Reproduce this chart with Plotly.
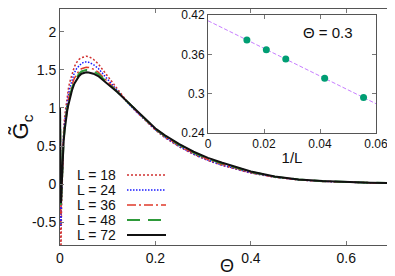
import numpy as np
import plotly.graph_objects as go

# ---------------- data ----------------
theta = [0, 0.001, 0.002, 0.003, 0.005, 0.0075, 0.01, 0.0125, 0.015, 0.0175,
         0.02, 0.025, 0.03, 0.035, 0.04, 0.045, 0.05, 0.055, 0.06, 0.065,
         0.07, 0.08, 0.09, 0.1, 0.12, 0.14, 0.16, 0.18, 0.2, 0.22,
         0.25, 0.28, 0.31, 0.34, 0.37, 0.4, 0.45, 0.5, 0.55, 0.6, 0.65, 0.7]

g_L18 = [1.0, -0.8, -0.9, -0.4, 0.35, 0.7, 0.9, 1.04, 1.15, 1.25,
         1.33, 1.45, 1.54, 1.60, 1.64, 1.66, 1.675, 1.68, 1.675, 1.66,
         1.64, 1.58, 1.50, 1.42, 1.25, 1.09, 0.95, 0.83, 0.71, 0.61,
         0.49, 0.39, 0.31, 0.245, 0.19, 0.145, 0.09, 0.055, 0.035, 0.024, 0.016, 0.011]

g_L24 = [1.0, -0.3, -0.55, -0.2, 0.33, 0.64, 0.83, 0.97, 1.08, 1.17,
         1.25, 1.37, 1.46, 1.52, 1.56, 1.585, 1.60, 1.605, 1.60, 1.59,
         1.57, 1.52, 1.45, 1.38, 1.23, 1.08, 0.95, 0.835, 0.715, 0.615,
         0.495, 0.395, 0.315, 0.25, 0.195, 0.148, 0.092, 0.056, 0.036, 0.024, 0.016, 0.011]

g_L36 = [1.0, -0.1, -0.4, -0.15, 0.32, 0.6, 0.78, 0.92, 1.02, 1.11,
         1.18, 1.30, 1.39, 1.45, 1.49, 1.515, 1.53, 1.535, 1.533, 1.525,
         1.51, 1.47, 1.41, 1.35, 1.22, 1.085, 0.96, 0.845, 0.72, 0.625,
         0.505, 0.405, 0.325, 0.26, 0.203, 0.155, 0.095, 0.058, 0.037, 0.025, 0.017, 0.0115]

g_L48 = [1.0, 0.0, -0.3, -0.12, 0.31, 0.57, 0.75, 0.89, 0.99, 1.075,
         1.14, 1.26, 1.35, 1.41, 1.45, 1.48, 1.493, 1.50, 1.498, 1.49,
         1.48, 1.445, 1.39, 1.335, 1.215, 1.088, 0.965, 0.852, 0.725, 0.632,
         0.515, 0.415, 0.335, 0.27, 0.21, 0.16, 0.098, 0.059, 0.038, 0.026, 0.0175, 0.012]

g_L72 = [1.0, 0.2, -0.25, -0.1, 0.3, 0.55, 0.72, 0.86, 0.96, 1.04,
         1.11, 1.23, 1.32, 1.38, 1.42, 1.45, 1.462, 1.468, 1.467, 1.46,
         1.45, 1.42, 1.37, 1.32, 1.21, 1.09, 0.97, 0.86, 0.73, 0.64,
         0.525, 0.425, 0.345, 0.28, 0.22, 0.165, 0.10, 0.06, 0.04, 0.027, 0.018, 0.012]

series_names = ["L = 18", "L = 24", "L = 36", "L = 48", "L = 72"]
series_values = [g_L18, g_L24, g_L36, g_L48, g_L72]

# inset: Theta = 0.3
inset_L = [72, 48, 36, 24, 18]
inset_G = [0.382, 0.367, 0.353, 0.3234, 0.294]

main_xticks = [0, 0.2, 0.4, 0.6]
main_yticks = [-0.5, 0, 0.5, 1, 1.5, 2]
inset_xticks = [0, 0.02, 0.04, 0.06]
inset_yticks = [0.24, 0.3, 0.36, 0.42]

# ---------------- styles ----------------
styles = [
    dict(color="#d03030", dash="2px,2px", width=1.5),
    dict(color="#1a1aff", dash="1.5px,1.5px", width=1.5),
    dict(color="#e03a2a", dash="9px,3px,2px,3px", width=1.5),
    dict(color="#2e9a3a", dash="13px,8px", width=2),
    dict(color="#111111", dash="solid", width=2),
]

FONT = "Liberation Sans, Arial, sans-serif"
# the page body has an 8px default margin; size the figure so the plot
# area lands at page pixels x 60..394, y 9..245
OFF = 8
W, H = 395 - OFF, 276 - OFF
ml, mr, mt, mb = 60 - OFF, 1, 9 - OFF, 31
pw, ph = W - ml - mr, H - mt - mb
X0, YB = 60, 245  # plot-area left / bottom in page pixels

def px_x(p):
    return (p - X0) / pw

def px_y(p):
    return (YB - p) / ph

fig = go.Figure()

for name, vals, st in zip(series_names, series_values, styles):
    fig.add_trace(go.Scatter(x=theta, y=vals, mode="lines", name=name,
                             line=dict(color=st["color"], dash=st["dash"], width=st["width"]),
                             showlegend=False, xaxis="x", yaxis="y"))

# inset data and fit line
inv_L = [1.0 / l for l in inset_L]
coef = np.polyfit(inv_L, inset_G, 1)
fit_x = np.array([0.0, 0.06])
fit_y = np.polyval(coef, fit_x)
fig.add_trace(go.Scatter(x=fit_x, y=fit_y, mode="lines",
                         line=dict(color="#c77dff", dash="4px,2px", width=1),
                         showlegend=False, xaxis="x2", yaxis="y2"))
fig.add_trace(go.Scatter(x=inv_L, y=inset_G, mode="markers",
                         marker=dict(color="#009e73", size=7),
                         showlegend=False, xaxis="x2", yaxis="y2"))

axis_common = dict(showgrid=False, zeroline=False, showline=True, linecolor="#555555",
                   linewidth=1, mirror="allticks", ticks="inside", ticklen=4,
                   tickcolor="#777777", automargin=False,
                   tickfont=dict(family=FONT, size=14, color="#111"))

fig.update_layout(
    width=W, height=H, autosize=False,
    margin=dict(l=ml, r=mr, t=mt, b=mb, autoexpand=False),
    paper_bgcolor="white", plot_bgcolor="white",
    font=dict(family=FONT, color="#111"),
    xaxis=dict(range=[0, 0.7], tickvals=main_xticks, ticktext=[str(v) for v in main_xticks],
               domain=[0, 1], anchor="y",
               title=dict(text="Θ", font=dict(size=18, family=FONT), standoff=0),
               **axis_common),
    yaxis=dict(range=[-0.8, 2.3], tickvals=main_yticks, ticktext=[str(v) for v in main_yticks],
               domain=[0, 1], anchor="x",
               title=dict(text="G\u0303<sub>c</sub>", font=dict(size=22, family=FONT), standoff=8),
               **axis_common),
    xaxis2=dict(range=[0, 0.06], tickvals=inset_xticks, ticktext=[str(v) for v in inset_xticks],
                domain=[px_x(208), px_x(376)], anchor="y2",
                title=dict(text="1/L", font=dict(size=15, family=FONT), standoff=2),
                **{**axis_common, "tickfont": dict(family=FONT, size=12, color="#111")}),
    yaxis2=dict(range=[0.24, 0.42], tickvals=inset_yticks, ticktext=[str(v) for v in inset_yticks],
                domain=[px_y(133), px_y(15)], anchor="x2",
                **{**axis_common, "tickfont": dict(family=FONT, size=12, color="#111")}),
)

fig.add_annotation(text="Θ = 0.3", x=px_x(328), y=px_y(33), xref="paper", yref="paper",
                   showarrow=False, font=dict(size=15, family=FONT, color="#111"),
                   xanchor="center", yanchor="middle")

# gnuplot-style legend (label left, sample right)
leg_y = [175, 190, 205, 220, 235]
for name, st, yy in zip(series_names, styles, leg_y):
    fig.add_annotation(text=name, x=px_x(118), y=px_y(yy), xref="paper", yref="paper",
                       showarrow=False, xanchor="right", yanchor="middle",
                       font=dict(size=14, family=FONT, color="#111"))
    fig.add_shape(type="line", xref="paper", yref="paper",
                  x0=px_x(127), x1=px_x(166), y0=px_y(yy), y1=px_y(yy),
                  line=dict(color=st["color"], dash=st["dash"], width=st["width"]))

fig.write_html("out.html")
